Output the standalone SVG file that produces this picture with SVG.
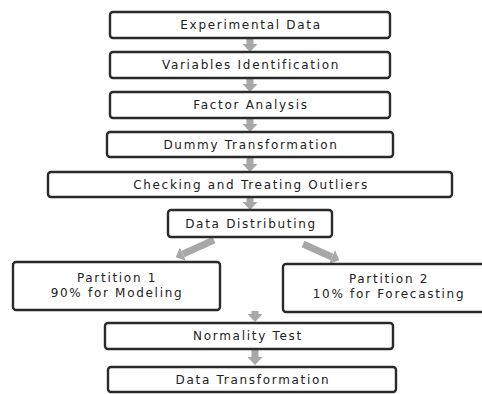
<svg xmlns="http://www.w3.org/2000/svg" width="482" height="394" viewBox="0 0 482 394">
<style>
.box{fill:#fff;stroke:#2a2a2a;stroke-width:2.4}
.t{font-family:"DejaVu Sans",Verdana,sans-serif;font-size:12px;letter-spacing:1.7px;fill:#222;text-anchor:middle}
.a{stroke:#a8a8a8;stroke-width:7;fill:none}
</style>
<defs>
<marker id="h" viewBox="0 -7.5 8 15" markerWidth="8" markerHeight="15" refX="0" refY="0" orient="auto" markerUnits="userSpaceOnUse">
<path d="M0,-7.5 L8,0 L0,7.5 z" fill="#a8a8a8"/>
</marker>
</defs>
<rect width="482" height="394" fill="#fff"/>
<g id="connectors">
<line class="a" x1="250" y1="39" x2="250" y2="44" marker-end="url(#h)"/>
<line class="a" x1="250" y1="79" x2="250" y2="84" marker-end="url(#h)"/>
<line class="a" x1="250" y1="119" x2="250" y2="124" marker-end="url(#h)"/>
<line class="a" x1="250" y1="158" x2="250" y2="164" marker-end="url(#h)"/>
<line class="a" x1="250" y1="198" x2="250" y2="202" marker-end="url(#h)"/>
<line class="a" x1="214" y1="240" x2="183" y2="254" marker-end="url(#h)"/>
<line class="a" x1="303" y1="244" x2="332" y2="257" marker-end="url(#h)"/>
<line class="a" x1="255" y1="311" x2="255" y2="314" marker-end="url(#h)"/>
<line class="a" x1="255" y1="350" x2="255" y2="357" marker-end="url(#h)"/>
</g>
<g id="n1"><rect class="box" x="110" y="12" width="280" height="26" rx="3"/><text class="t" x="251" y="29">Experimental Data</text></g>
<g id="n2"><rect class="box" x="110" y="52" width="280" height="26" rx="3"/><text class="t" x="251" y="69">Variables Identification</text></g>
<g id="n3"><rect class="box" x="110" y="92" width="280" height="26" rx="3"/><text class="t" x="251" y="109">Factor Analysis</text></g>
<g id="n4"><rect class="box" x="107" y="132" width="286" height="25" rx="3"/><text class="t" x="251" y="149">Dummy Transformation</text></g>
<g id="n5"><rect class="box" x="48" y="172" width="404" height="25" rx="3"/><text class="t" x="251" y="189">Checking and Treating Outliers</text></g>
<g id="n6"><rect class="box" x="168" y="210" width="164" height="27" rx="3"/><text class="t" x="251" y="228">Data Distributing</text></g>
<g id="n7"><rect class="box" x="13" y="262" width="207" height="48" rx="3"/><text class="t" x="117" y="282">Partition 1</text><text class="t" x="117" y="297">90% for Modeling</text></g>
<g id="n8"><rect class="box" x="283" y="264" width="212" height="48" rx="3"/><text class="t" x="389" y="283">Partition 2</text><text class="t" x="389" y="298">10% for Forecasting</text></g>
<g id="n9"><rect class="box" x="105" y="323" width="288" height="26" rx="3"/><text class="t" x="248" y="340">Normality Test</text></g>
<g id="n10"><rect class="box" x="108" y="367" width="288" height="25" rx="3"/><text class="t" x="253" y="384">Data Transformation</text></g>
</svg>
